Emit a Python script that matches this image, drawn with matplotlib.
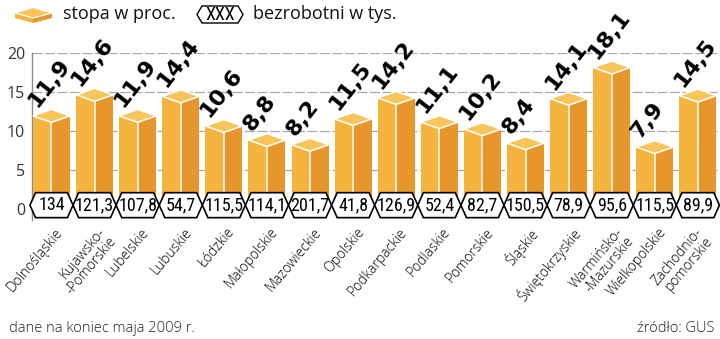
import matplotlib
matplotlib.use("Agg")
import matplotlib.pyplot as plt
from matplotlib.patches import Polygon
from matplotlib.transforms import ScaledTranslation

regions = ["Dolnośląskie", "Kujawsko-\n-Pomorskie", "Lubelskie", "Lubuskie", "Łódzkie",
           "Małopolskie", "Mazowieckie", "Opolskie", "Podkarpackie", "Podlaskie",
           "Pomorskie", "Śląskie", "Świętokrzyskie", "Warmińsko-\n-Mazurskie",
           "Wielkopolskie", "Zachodnio-\npomorskie"]
rate = [11.9, 14.6, 11.9, 14.4, 10.6, 8.8, 8.2, 11.5, 14.2, 11.1, 10.2, 8.4, 14.1, 18.1, 7.9, 14.5]
unemployed = [134, 121.3, 107.8, 54.7, 115.5, 114.1, 201.7, 41.8, 126.9, 52.4, 82.7,
              150.5, 78.9, 95.6, 115.5, 89.9]
yticks = [0, 5, 10, 15, 20]

LIGHT = "#F4B43E"
DARK = "#E7962B"
TOP = "#F8C55B"
LIGHT_FONT = ["Open Sans", "DejaVu Sans"]
NARROW_FONT = ["Roboto Condensed", "DejaVu Sans Condensed", "Liberation Sans Narrow",
               "Roboto", "DejaVu Sans"]


def fmt(v):
    return f"{v:g}".replace(".", ",")


W, H = 720, 339
fig = plt.figure(figsize=(W / 100, H / 100), dpi=100)

# axes placed in pixel terms: x from 32 to 719, y from 20 (52.7px) down to -1.4
ax_l, ax_r = 32, 719
y_top_px, y_bot_px = 52.7, 219.6
ax = fig.add_axes([ax_l / W, 1 - y_bot_px / H, (ax_r - ax_l) / W, (y_bot_px - y_top_px) / H])

n = len(rate)
x = list(range(n))
bw = 0.86
depth = 0.83

ax.set_xlim(-0.452, 15.49)
ax.set_ylim(-1.4, 20)

# front faces: lighter left half, darker right half
ax.bar(x, rate, width=-bw / 2, align="edge", color=LIGHT, zorder=2, linewidth=0)
ax.bar(x, rate, width=bw / 2, align="edge", color=DARK, zorder=2, linewidth=0)
for xi, v in zip(x, rate):
    ax.plot([xi, xi], [0, v - depth], color="white", lw=1.1, zorder=3, solid_capstyle="butt")
    top = Polygon([(xi - bw / 2, v), (xi, v + depth), (xi + bw / 2, v), (xi, v - depth)],
                  closed=True, facecolor=TOP, edgecolor="white", lw=1.1, zorder=4,
                  joinstyle="miter")
    ax.add_patch(top)
    ax.text(xi - 0.34, v + 1.0, fmt(v), rotation=52, rotation_mode="anchor",
            ha="left", va="baseline", fontsize=16, fontweight="bold",
            family="DejaVu Sans", color="black", zorder=6, clip_on=False)

# hexagon badges with unemployment counts
yc, hh, tip = 0.45, 1.6, 0.13
for xi, u in zip(x, unemployed):
    hexa = Polygon([(xi - 0.5, yc), (xi - 0.5 + tip, yc + hh), (xi + 0.5 - tip, yc + hh),
                    (xi + 0.5, yc), (xi + 0.5 - tip, yc - hh), (xi - 0.5 + tip, yc - hh)],
                   closed=True, facecolor="white", edgecolor="black", lw=1.2, zorder=5,
                   clip_on=False)
    ax.add_patch(hexa)
    ax.text(xi, yc, fmt(u), ha="center", va="center", fontsize=13, fontstretch="condensed",
            family=NARROW_FONT, color="black", zorder=6, clip_on=False)

# axes styling
for side in ["top", "right", "bottom"]:
    ax.spines[side].set_visible(False)
ax.spines["left"].set_color("#8c8c8c")
ax.spines["left"].set_linewidth(1.0)
ax.spines["left"].set_zorder(1)
ax.set_yticks(yticks)
ax.set_yticklabels([str(t) for t in yticks], family=LIGHT_FONT, fontsize=11.5, color="#333333")
ax.tick_params(axis="y", length=0, pad=5)
ax.yaxis.grid(True, color="#a8a8a8", lw=0.9, linestyle=(0, (8, 2)), zorder=0)
ax.set_axisbelow(True)
ax.get_ygridlines()[0].set_visible(False)

ax.set_xticks(x)
ax.set_xticklabels(regions, rotation=50, rotation_mode="anchor", ha="right", va="top",
                   family=LIGHT_FONT, fontweight="light", fontsize=10, color="#000000",
                   linespacing=0.92)
ax.tick_params(axis="x", length=0, pad=4)
labels = ax.get_xticklabels()
for i, lab in enumerate(labels):
    dx = 0.03 if i < len(labels) - 1 else -0.04
    lab.set_transform(lab.get_transform() + ScaledTranslation(dx, 0, fig.dpi_scale_trans))


# legend drawn in figure pixel coordinates
def px(xp, yp):
    return (xp / W, 1 - yp / H)


ft = fig.transFigure
fig.patches.append(Polygon([px(15, 13), px(33, 18), px(33, 23), px(15, 18)], closed=True,
                           facecolor=LIGHT, edgecolor="none", transform=ft))
fig.patches.append(Polygon([px(33, 18), px(52, 13), px(52, 18), px(33, 23)], closed=True,
                           facecolor=DARK, edgecolor="none", transform=ft))
fig.patches.append(Polygon([px(15, 13), px(33, 7.5), px(52, 13), px(33, 18)], closed=True,
                           facecolor=TOP, edgecolor="white", lw=0.8, transform=ft))
fig.text(*px(63, 14), "stopa w proc.", family=LIGHT_FONT, fontsize=13, va="center",
         ha="left", color="#111111")
fig.patches.append(Polygon([px(197, 14.5), px(202, 6), px(238, 6), px(243, 14.5),
                            px(238, 23), px(202, 23)], closed=True, facecolor="white",
                           edgecolor="black", lw=1.0, transform=ft))
fig.text(*px(220, 14.5), "XXX", family=NARROW_FONT, fontstretch="condensed", fontsize=13,
         va="center", ha="center", color="black")
fig.text(*px(253, 14), "bezrobotni w tys.", family=LIGHT_FONT, fontsize=13, va="center",
         ha="left", color="#111111")

fig.text(*px(9, 328), "dane na koniec maja 2009 r.", family=LIGHT_FONT, fontweight="light",
         fontsize=10.5, va="center", ha="left", color="#222222")
fig.text(*px(714, 328), "źródło: GUS", family=LIGHT_FONT, fontweight="light",
         fontsize=10.5, va="center", ha="right", color="#222222")

fig.savefig("out.png", dpi=100)
